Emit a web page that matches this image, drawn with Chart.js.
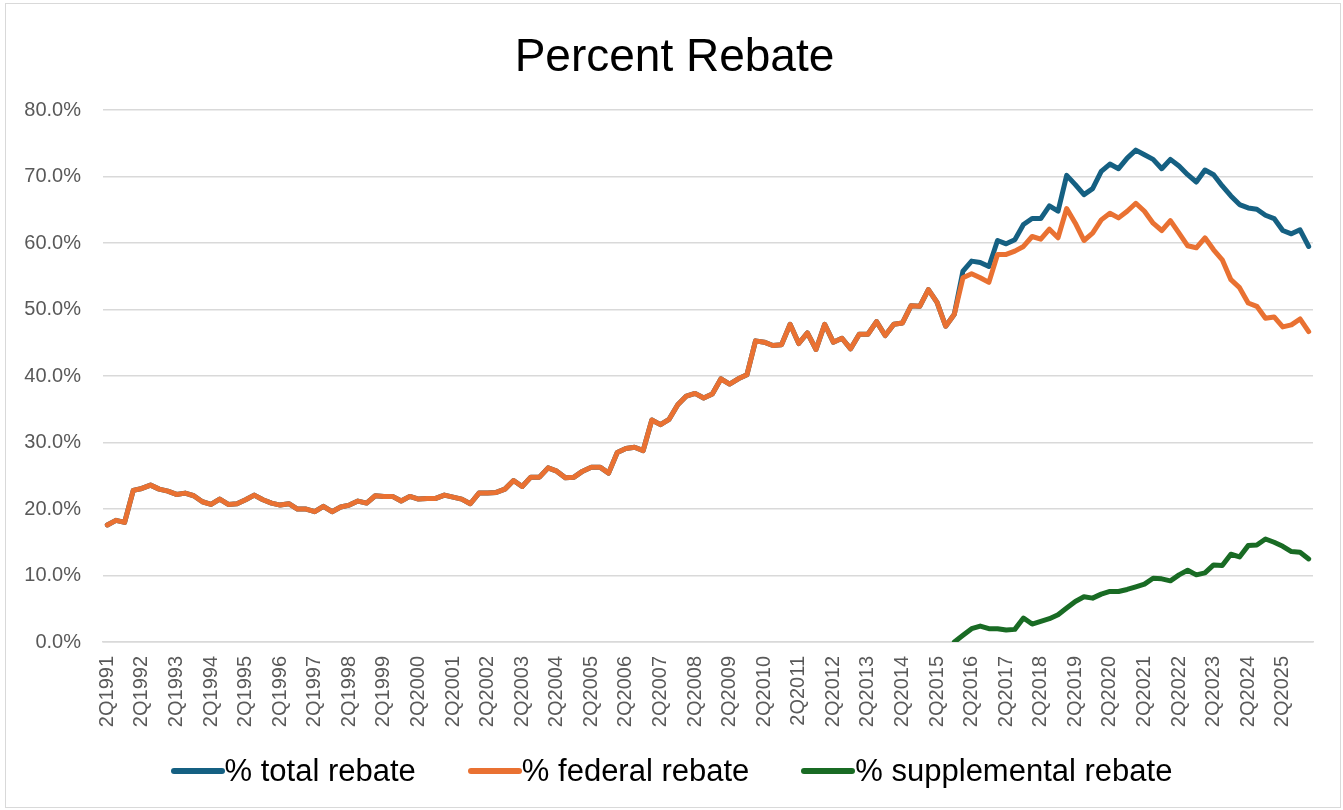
<!DOCTYPE html>
<html>
<head>
<meta charset="utf-8">
<title>Percent Rebate</title>
<script src="https://cdn.jsdelivr.net/npm/chart.js@4.4.1/dist/chart.umd.min.js"></script>
<style>
  html, body { margin: 0; overflow: hidden; background: #fff; font-family: 'Liberation Sans', Arial, sans-serif; }
  .frame { position: absolute; left: 5px; top: 3px; width: 1334px; height: 803px; border: 1px solid #d9d9d9; }
  .chart-box { position: absolute; left: 0; top: 0; width: 1343px; height: 810px; overflow: hidden; }
  .legend { position: absolute; left: 0; top: 752px; width: 1343px; display: flex; justify-content: center; gap: 52px; }
  .legend-item { display: flex; align-items: center; font-size: 31px; color: #000; line-height: 38px; }
  .legend-line { width: 54px; height: 6px; border-radius: 3px; }
</style>
</head>
<body>
<div class="frame"></div>
<div class="chart-box"><canvas id="rebate-chart" width="1349" height="810"></canvas></div>
<div class="legend"></div>
<script>
const fontFamily = "'Liberation Sans', Arial, sans-serif"

// quarters 2Q1991 .. 1Q2026
const quarters = []
let q = 2
let year = 1991
for (let i = 0; i < 140; i++) {
    quarters.push(q + 'Q' + year)
    q++
    if (q > 4) {
        q = 1
        year++
    }
}

// rebate as percent of spending, one value per quarter
const federalRebate = [
    17.6, 18.3, 18.0, 22.8, 23.1, 23.6, 23.0, 22.7, 22.2, 22.4,
    22.0, 21.1, 20.7, 21.5, 20.7, 20.8, 21.4, 22.1, 21.4, 20.9,
    20.6, 20.8, 20.0, 20.0, 19.6, 20.4, 19.6, 20.3, 20.6, 21.2,
    20.9, 22.0, 21.9, 21.9, 21.2, 21.9, 21.5, 21.6, 21.6, 22.1,
    21.8, 21.5, 20.8, 22.4, 22.4, 22.5, 23.0, 24.3, 23.4, 24.8,
    24.8, 26.2, 25.7, 24.7, 24.8, 25.7, 26.3, 26.3, 25.4, 28.5,
    29.1, 29.3, 28.8, 33.4, 32.7, 33.5, 35.7, 37.0, 37.4, 36.7,
    37.3, 39.6, 38.8, 39.6, 40.2, 45.3, 45.1, 44.6, 44.7, 47.8,
    44.9, 46.5, 44.0, 47.8, 45.1, 45.7, 44.1, 46.3, 46.3, 48.2,
    46.1, 47.8, 48.0, 50.6, 50.5, 53.0, 51.1, 47.5, 49.3, 54.8,
    55.4, 54.8, 54.1, 58.3, 58.3, 58.8, 59.5, 61.0, 60.6, 62.1,
    60.8, 65.2, 63.0, 60.4, 61.5, 63.5, 64.5, 63.8, 64.8, 66.0,
    64.8, 63.0, 61.9, 63.4, 61.5, 59.6, 59.3, 60.8, 59.0, 57.5,
    54.5, 53.3, 51.0, 50.5, 48.7, 48.9, 47.4, 47.7, 48.6, 46.7
]

// supplemental rebates start in 4Q2015 (index 98)
const supplementalStart = 98
const supplementalRebate = Array(supplementalStart).fill(null).concat([
    0.0, 1.0, 2.0, 2.4, 2.0, 2.0, 1.8, 1.9, 3.6, 2.7,
    3.1, 3.5, 4.1, 5.1, 6.1, 6.8, 6.6, 7.2, 7.6, 7.6,
    7.9, 8.3, 8.7, 9.6, 9.5, 9.2, 10.1, 10.8, 10.1, 10.4,
    11.6, 11.5, 13.2, 12.8, 14.5, 14.6, 15.5, 15.0, 14.4, 13.6,
    13.5, 12.5
])

// total equals federal until the supplemental program kicks in
const totalRebate = federalRebate.slice(0, supplementalStart + 1).concat([
    55.8, 57.3, 57.1, 56.5, 60.4, 59.9, 60.5, 62.8, 63.7, 63.7,
    65.6, 64.8, 70.2, 68.8, 67.3, 68.2, 70.8, 71.9, 71.2, 72.8,
    74.0, 73.3, 72.6, 71.2, 72.6, 71.6, 70.3, 69.2, 71.0, 70.3,
    68.6, 67.1, 65.8, 65.3, 65.1, 64.2, 63.7, 61.9, 61.4, 62.0,
    59.5
])

const yTicks = [0, 10, 20, 30, 40, 50, 60, 70, 80]

function makeLine(label, data, color, order) {
    return {
        label: label,
        data: data,
        borderColor: color,
        backgroundColor: color,
        borderWidth: 5,
        borderCapStyle: 'round',
        borderJoinStyle: 'round',
        pointRadius: 0,
        tension: 0,
        order: order
    }
}

const chart = new Chart(document.getElementById('rebate-chart'), {
    type: 'line',
    data: {
        labels: quarters,
        datasets: [
            makeLine('% total rebate', totalRebate, '#156082', 3),
            makeLine('% federal rebate', federalRebate, '#E97132', 2),
            makeLine('% supplemental rebate', supplementalRebate, '#196B24', 1)
        ]
    },
    options: {
        responsive: false,
        animation: false,
        layout: { padding: { left: 0, right: 0, top: 0, bottom: 68 } },
        plugins: {
            legend: { display: false },
            tooltip: { enabled: false },
            title: {
                display: true,
                text: 'Percent Rebate',
                color: '#000',
                font: { family: fontFamily, size: 46, weight: 'normal' },
                padding: { top: 31, bottom: 24 }
            }
        },
        scales: {
            x: {
                offset: true,
                grid: { display: false, drawTicks: false },
                border: { color: '#d9d9d9', width: 1.5 },
                ticks: {
                    autoSkip: false,
                    minRotation: 90,
                    maxRotation: 90,
                    padding: 14,
                    color: '#595959',
                    font: { family: fontFamily, size: 20 },
                    callback: function (value, index) {
                        return index % 4 === 0 ? this.getLabelForValue(value) : ''
                    }
                },
                afterFit: function (scale) { scale.height = 100 }
            },
            y: {
                min: yTicks[0],
                max: yTicks[yTicks.length - 1],
                afterBuildTicks: function (scale) {
                    scale.ticks = yTicks.map(v => ({ value: v }))
                },
                grid: { color: '#d9d9d9', lineWidth: 1.5, drawTicks: false },
                border: { display: false },
                ticks: {
                    padding: 22,
                    color: '#595959',
                    font: { family: fontFamily, size: 20 },
                    callback: v => v.toFixed(1) + '%'
                },
                afterFit: function (scale) { scale.width = 103 }
            },
            // empty right-hand margin, keeps the title centred on the frame
            spacer: {
                position: 'right',
                grid: { display: false, drawTicks: false },
                border: { display: false },
                ticks: { display: false },
                afterFit: function (scale) { scale.width = 36 }
            }
        }
    }
})

// legend drawn as html so the sample line sits right against the text
const legendEl = document.querySelector('.legend')
chart.data.datasets.forEach(ds => {
    const item = document.createElement('div')
    item.classList.add('legend-item')
    const line = document.createElement('span')
    line.classList.add('legend-line')
    line.style.background = ds.borderColor
    const text = document.createElement('span')
    text.textContent = ds.label
    item.appendChild(line)
    item.appendChild(text)
    legendEl.appendChild(item)
})
</script>
</body>
</html>
